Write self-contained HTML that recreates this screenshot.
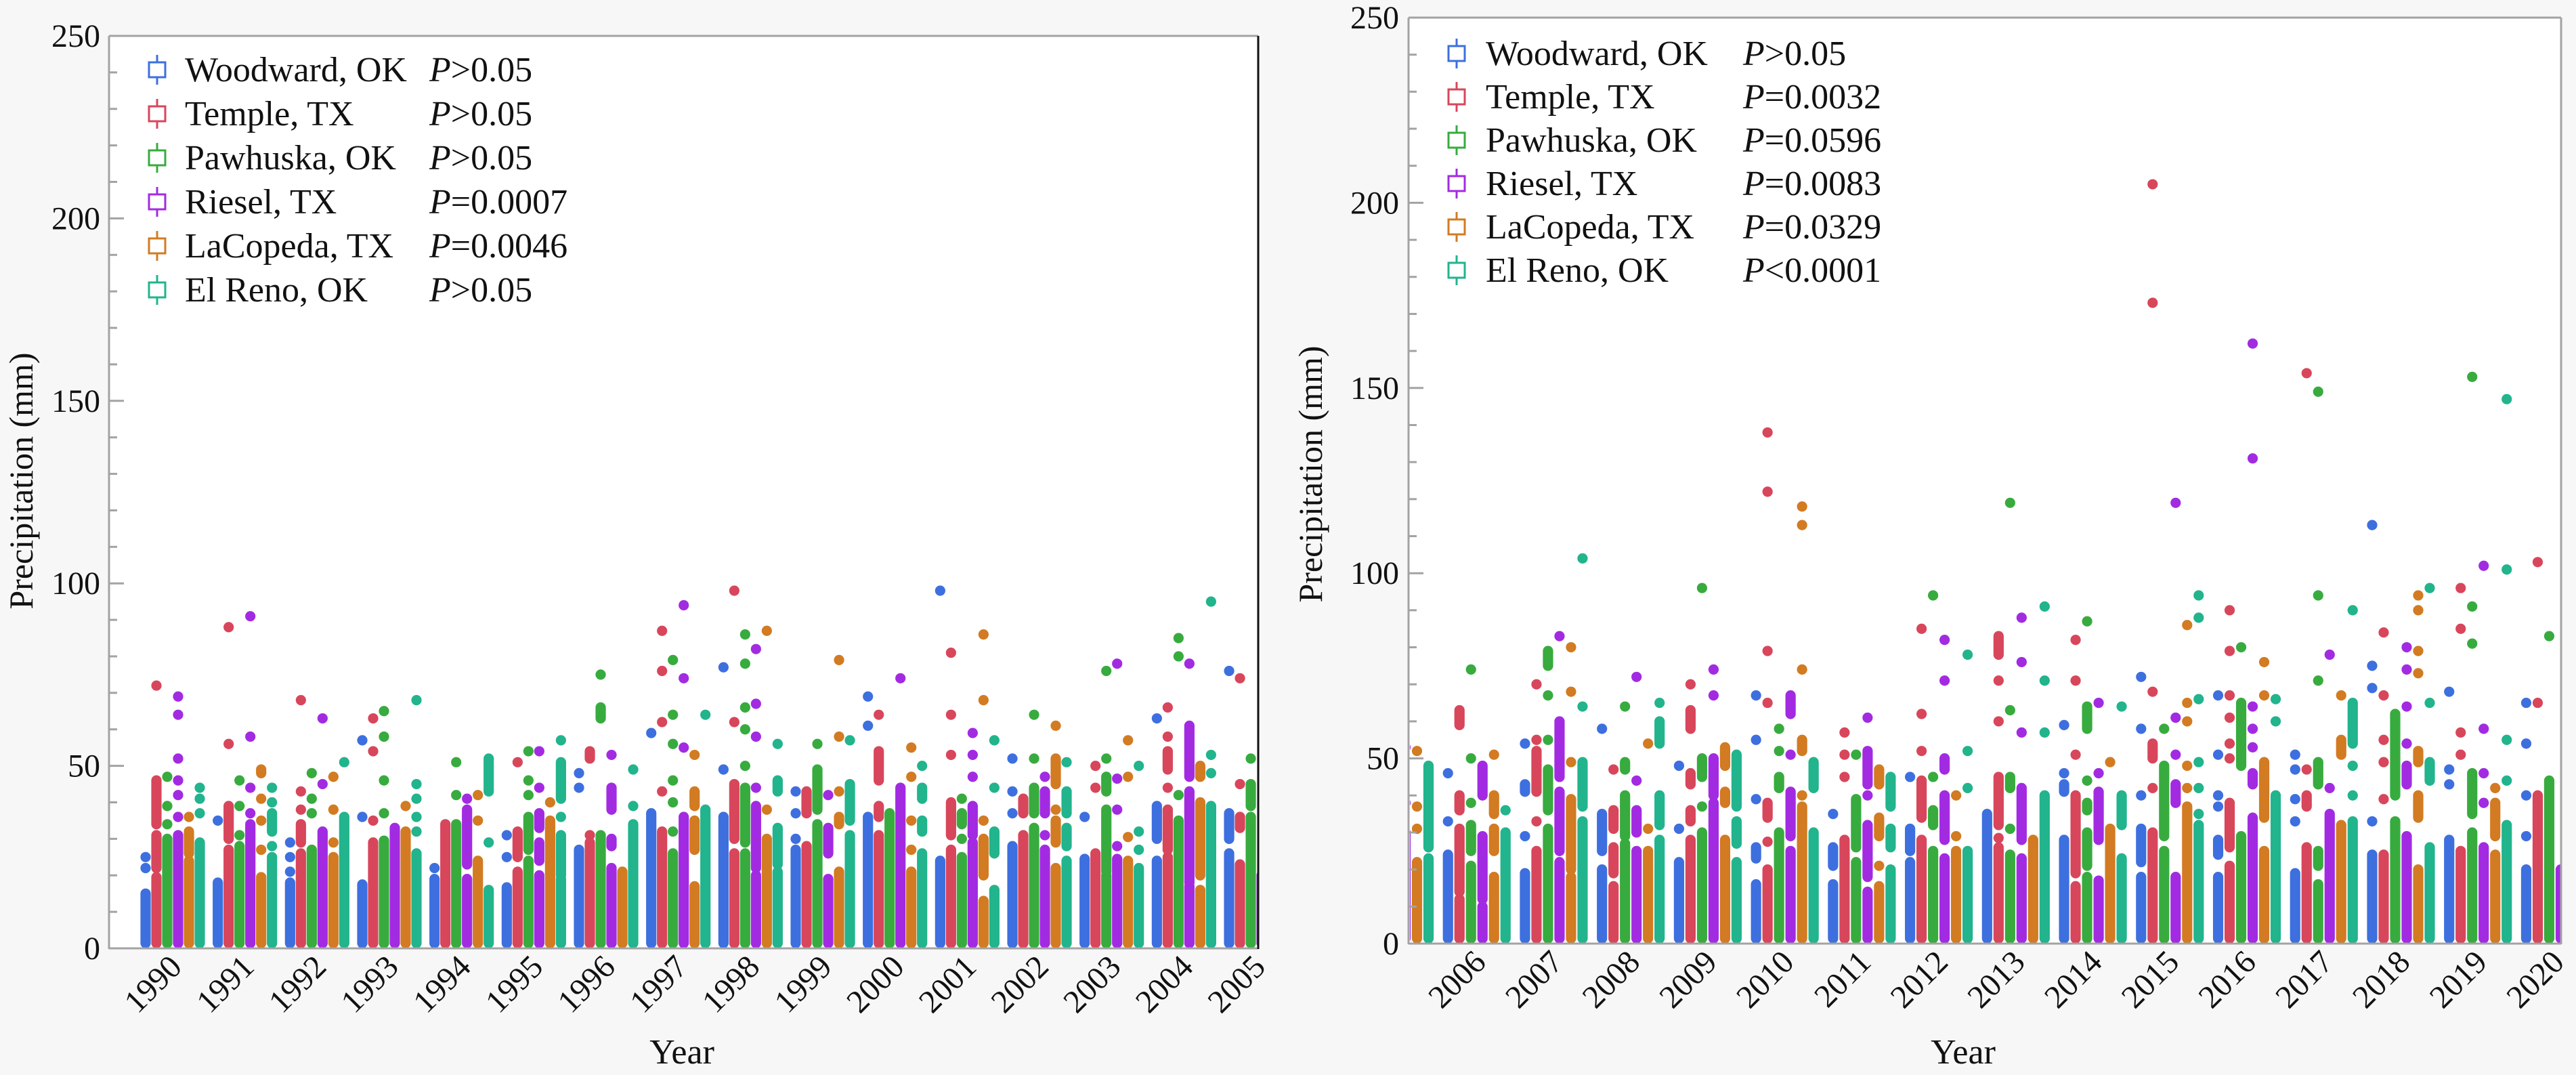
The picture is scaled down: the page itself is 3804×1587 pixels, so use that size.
<!DOCTYPE html>
<html><head><meta charset="utf-8"><style>
html,body{margin:0;padding:0;background:#f7f7f7;}
svg{display:block;font-family:"Times New Roman","Times","Liberation Serif","DejaVu Serif","Noto Serif CJK SC",serif;}
text{font-family:"Times New Roman","Times","Liberation Serif","DejaVu Serif","Noto Serif CJK SC",serif;}
</style></head><body>
<svg id="fig" width="3804" height="1587" viewBox="0 0 3804 1587" xmlns="http://www.w3.org/2000/svg">
<rect x="0" y="0" width="3804" height="1587" fill="#f7f7f7"/>
</svg>
<script>
const sites = ["Woodward, OK","Temple, TX","Pawhuska, OK","Riesel, TX","LaCopeda, TX","El Reno, OK"];
const colors = ["#3d6fdf","#d8465b","#38ab3f","#a22be2","#d27b22","#22b48c"];
const yTicks = [0,50,100,150,200,250];
const pLeft = ["P>0.05","P>0.05","P>0.05","P=0.0007","P=0.0046","P>0.05"];
const pRight = ["P>0.05","P=0.0032","P=0.0596","P=0.0083","P=0.0329","P<0.0001"];
const yearsLeft = [1990,1991,1992,1993,1994,1995,1996,1997,1998,1999,2000,2001,2002,2003,2004,2005];
const yearsRight = [2005,2006,2007,2008,2009,2010,2011,2012,2013,2014,2015,2016,2017,2018,2019,2020];
const labelsRight = ["",2006,2007,2008,2009,2010,2011,2012,2013,2014,2015,2016,2017,2018,2019,2020];

const blueL = [[[0,15],22,25],[[0,18],35],[[0,18],21,25,29],[[0,17.5],36,57],[[0,19],22],[[0,16.7],25,31],[[0,27],44,48],[[0,37],59],[[0,36],49,77],[[0,27],30,37,43],[[0,36],61,69],[[0,24],98],[[0,28],37,43,52],[[0,24.5],36],[[0,24],[30,39],63],[[0,26],[30,37],76]];
const redL = [[[0,19.5],[22,31],[34,46],72],[[0,27],[30,39],56,88],[[0,26],[29,34],38,43,68],[[0,29],35,54,63],[[0,34]],[[0,21],[25,32],51],[[0,29],31,[52,54]],[[0,32],43,62,76,87],[[0,26],[30,45],62,98],[[0,28],[37,43]],[[0,31],[36,39],[46,54],64],[[0,27],[31,40],53,64,81],[[0,31],[37,41]],[[0,26],44,50],[[0,25],[27,38],44,[49,54],58,66],[[0,23],[33,36],45,74]];
const greenL = [[[0,30],34,39,47],[[0,28],31,39,46],[[0,27],37,41,48],[[0,29.5],37,46,58,65],[[0,34],42,51],[[0,24],[27,36],42,46,54],[[0,31],[63,66],75],[[0,26],32,40,46,56,64,79],[[0,26],[29,44],50,60,66,78,86],[[0,34],[38,49],56],[[0,37]],[[0,25],30,[34,37],41],[[0,33],[37,44],52,64],[[0,20],[21,38],[43,47],52,76],[[0,35],42,80,85],[[0,36],[39,45],52]];
const purpleL = [[[0,31],36,42,46,52,64,69],[[0,34],37,44,58,91],[[0,32],45,63],[[0,33]],[[0,19],[23,38],41],[[0,20],[24,29],[33,37],44,54],[[0,22],[28,30],[38,44],53],[[0,36],55,74,94],[[0,20],[22,39],44,58,67,82],[[0,19],[26,33],42],[[0,44],74],[[0,29],[31,39],47,53,59],[[0,27],31,[37,43],47],[[0,24.5],28,38,46.5,78],[[0,17],[18,43],[47,61],78],[[0,20]]];
const orangeL = [[[0,24],[26,32],36],[[0,19.5],27,35,41,[48,49]],[[0,25],29,38,47],[[0,32],39],[[0,24],35,42],[[0,35],40],[[0,21]],[[0,17],[27,35],[39,43],53],[[0,30],38,87],[[0,21],[34,36],43,58,79],[[0,21],27,35,47,55],[[0,13],[20,30],35,68,86],[[0,22],[29,35],38,[45,52],61],[[0,24],30.5,47,57],[[0,16],[20,40],[47,50]],[[0,15]]];
const tealL = [[[0,29],37,41,44],[[0,25],28,[32,37],40,44],[[0,36],51],[[0,26],32,36,41,45,68],[[0,16],29,[43,52]],[[0,19],[20,31],36,[41,51],57],[[0,34],39,49],[[0,38],64],[[0,21],[23,33],[43,46],56],[[0,31],[35,45],57],[[0,26],[32,35],[41,44],50],[[0,16],[26,32],44,57],[[0,24],[28,33],[37,43],51],[[0,22],27,32,50],[[0,39],48,53,95],[[0,20]]];

const blueR = [[[0,20]],[[0,24],33,46],[[0,19],29,[41,43],54],[[0,20],[25,35],58],[[0,22],31,48],[[0,16],[23,26],39,55,67],[[0,16],[21,26],35],[[0,22],[25,31],45],[[0,35]],[[0,28],[41,43],46,59],[[0,18],[22,31],40,58,72],[[0,18],[24,28],37,40,51,67],[[0,19],33,39,47,51],[[0,24],33,69,75,113],[[0,28],43,47,68],[[0,20],29,40,54,65]];
const redR = [[[0,20]],[[0,12],[14,31],[36,40],[59,63]],[[0,25],33,[41,52],55,70],[[0,15.5],[19,26],[31,36],47],[[0,28],[33,36],[43,46],[58,63],70],[[0,20],27.5,[34,38],65,79,122,138],[[0,28],45,51,57],[[0,28],[34,44],52,62,85],[[0,26],28.5,[32,45],60,71,[78,83]],[[0,15.5],[19,40],51,71,82],[[0,30],42,[50,54],68,173,205],[[0,21],[26,38],50,54,61,67,79,90],[[0,26],[37,40],47,154],[[0,24],39,49,55,67,84],[[0,25],51,57,85,96],[[0,40],65,103]];
const greenR = [[[0,20]],[[0,21],[25,32],38,50,74],[[0,31],[36,47],55,67,[75,79]],[[0,27],[29,40],[47,49],64],[[0,30],37,[45,50],96],[[0,30],[42,45],52,58],[[0,22],[26,39],51],[[0,25],[32,36],45,94],[[0,24],31,[42,45],63,119],[[0,18],[21,30],[36,38],44,[58,64],87],[[0,25],[29,48],58],[[0,29],[48,65],80],[[0,16],[21,25],[43,49],71,94,149],[[0,33],[40,62]],[[0,30],[35,46],81,91,153],[[0,44],83]];
const purpleR = [[[0,30],38,53],[[0,10],[12,29],[40,48]],[[0,22],[25,41],[45,60],83],[[0,25],[30,36],44,72],[[0,38],[40,50],67,74],[[0,25],[29,41],51,[62,67]],[[0,14],[18,32],40,[43,52],61],[[0,23],[28,40],[47,50],71,82],[[0,23],[28,42],57,76,88],[[0,17],[28,41],46,65],[[0,18],[38,43],51,61,119],[[0,34],[43,46],53,58,64,131,162],[[0,35],42,78],[[0,29],[43,48],54,64,74,80],[[0,26],38,46,58,102],[[0,20]]];
const orangeR = [[[0,22],31,37,52],[[0,18],[25,31],[35,40],51],[[0,18],[20,39],49,68,80],[[0,25],31,54],[[0,28],[38,41],[48,53]],[[0,37],40,[52,55],74,113,118],[[0,15.5],21,[29,34],[43,47]],[[0,25],29,40],[[0,28]],[[0,31],49],[[0,37],42,48,60,65,86],[[0,25],[34,49],67,76],[[0,32],[51,55],67],[[0,20],[34,40],[49,52],73,79,90,94],[[0,24],[29,38],42],[[0,20]]];
const tealR = [[[0,23],[26,48]],[[0,30],36],[[0,33],[37,49],64,104],[[0,28],[32,40],[54,60],65],[[0,22],[27,33],[37,51]],[[0,30],[42,49]],[[0,20],[26,31],[37,45]],[[0,25],42,52,78],[[0,40],57,71,91],[[0,23],[32,40],64],[[0,32],35,42,49,66,88,94],[[0,40],60,66],[[0,33],40,48,[54,65],90],[[0,26],[44,49],65,96],[[0,32],44,55,101,147],[[0,20]]];

const NS = "http://www.w3.org/2000/svg";
const svg = document.getElementById("fig");
function mk(tag, attrs, parent){
  const e = document.createElementNS(NS, tag);
  for (const k in attrs) e.setAttribute(k, attrs[k]);
  (parent || svg).appendChild(e);
  return e;
}

function drawChart(cfg){
  const g = mk("g", {});
  
  
  const L = cfg.left, T = cfg.top, R = cfg.right, B = cfg.bottom;
  const yS = v => B - (v / 250) * (B - T);
  const xS = i => cfg.x0 + i * cfg.step;

  const bg = mk("rect", {x:L, y:T, width:R-L, height:B-T, fill:"#ffffff"}, g);
  
  

  const cid = cfg.name + "-clip";
  const defs = mk("defs", {}, g);
  const cp = mk("clipPath", {id:cid}, defs);
  mk("rect", {x:L+2, y:T, width:R-L-3, height:B-T-1}, cp);
  const marks = mk("g", {"clip-path":"url(#"+cid+")"}, g);
  
  

  const r = cfg.r;
  cfg.series.forEach((ser, k) => {
    const sg = mk("g", {fill: colors[k]}, marks);
    
    
    ser.forEach((col, i) => {
      const cx = xS(i) + (k - 2.5) * cfg.colW;
      col.forEach(item => {
        if (Array.isArray(item)) {
          const yt = yS(item[1]) - r, yb = item[0] === 0 ? B : yS(item[0]) + r;
          const rc = mk("rect", {x:cx - r, y:yt, width:2*r, height:Math.max(yb-yt, 2*r), rx:r, ry:r}, sg);
          
          
        } else {
          const c = mk("circle", {cx:cx, cy:yS(item), r:r}, sg);
          
          
        }
      });
    });
  });

  const axL = mk("line", {x1:L, y1:T, x2:L, y2:B+1, stroke:"#a3a3a3", "stroke-width":3}, g);
  
  
  const axB = mk("line", {x1:L, y1:B, x2:R, y2:B, stroke:"#a3a3a3", "stroke-width":3}, g);
  
  
  const axT = mk("line", {x1:L, y1:T, x2:R, y2:T, stroke:"#a3a3a3", "stroke-width":3}, g);
  
  
  const axR = mk("line", {x1:R, y1:T, x2:R, y2:B+1, stroke:cfg.rightColor, "stroke-width":3}, g);
  
  

  for (let v = 0; v <= 250; v += 10) {
    const major = v % 50 === 0;
    const t = mk("line", {x1:L, y1:yS(v), x2:L + (major ? 22 : 12), y2:yS(v), stroke:"#a3a3a3", "stroke-width":3}, g);
    
    
  }
  yTicks.forEach(v => {
    const t = mk("text", {x:cfg.labelRight, y:yS(v) + 16, "text-anchor":"end", "font-size":48, fill:"#111"}, g);
    t.textContent = v;
    
    
  });
  cfg.xLabels.forEach((lab, i) => {
    if (lab === "") return;
    const ax = xS(i) + 16, ay = B + 30;
    const t = mk("text", {x:ax, y:ay, "text-anchor":"end", "font-size":48, fill:"#111", transform:"rotate(-45 "+ax+" "+ay+")"}, g);
    t.textContent = lab;
    
    
  });

  const yt = mk("text", {x:cfg.yTitleX, y:cfg.yTitleY, "text-anchor":"middle", "font-size":50, fill:"#111", transform:"rotate(-90 "+cfg.yTitleX+" "+cfg.yTitleY+")"}, g);
  yt.textContent = "Precipitation (mm)";
  
  
  const xt = mk("text", {x:cfg.xTitleX, y:1570, "text-anchor":"middle", "font-size":52, fill:"#111"}, g);
  xt.textContent = "Year";
  
  

  const lg = mk("g", {}, g);
  
  
  sites.forEach((s, k) => {
    const cy = cfg.legY0 + k * cfg.legDy;
    const e = mk("g", {}, lg);
    
    
    mk("line", {x1:cfg.legX, y1:cy-22, x2:cfg.legX, y2:cy+22, stroke:colors[k], "stroke-width":3}, e);
    mk("rect", {x:cfg.legX-12, y:cy-11, width:24, height:22, fill:"#fff", stroke:colors[k], "stroke-width":3}, e);
    const t = mk("text", {x:cfg.legTextX, y:cy+17, "font-size":52, fill:"#111"}, e);
    t.textContent = s;
    
    
    const p = mk("text", {x:cfg.legPX, y:cy+17, "font-size":52, fill:"#111"}, e);
    const pi = mk("tspan", {"font-style":"italic"}, p);
    pi.textContent = "P";
    const rest = mk("tspan", {}, p);
    rest.textContent = cfg.pvals[k].slice(1);
    
    
  });
}

drawChart({name:"chart-1990-2005", left:161, top:53, right:1858, bottom:1400, x0:255, step:106.67, colW:16, r:7.6,
  series:[blueL,redL,greenL,purpleL,orangeL,tealL], xLabels:yearsLeft, labelRight:148, rightColor:"#111",
  yTitleX:48, yTitleY:710, xTitleX:1007, legX:232, legTextX:273, legPX:634, legY0:103, legDy:65, pvals:pLeft});
drawChart({name:"chart-2005-2020", left:2080, top:26, right:3782, bottom:1393, x0:2067, step:113.73, colW:17, r:7.6,
  series:[blueR,redR,greenR,purpleR,orangeR,tealR], xLabels:labelsRight, labelRight:2066, rightColor:"#a3a3a3",
  yTitleX:1952, yTitleY:700, xTitleX:2899, legX:2151, legTextX:2194, legPX:2574, legY0:79, legDy:64, pvals:pRight});
</script>
</body></html>
